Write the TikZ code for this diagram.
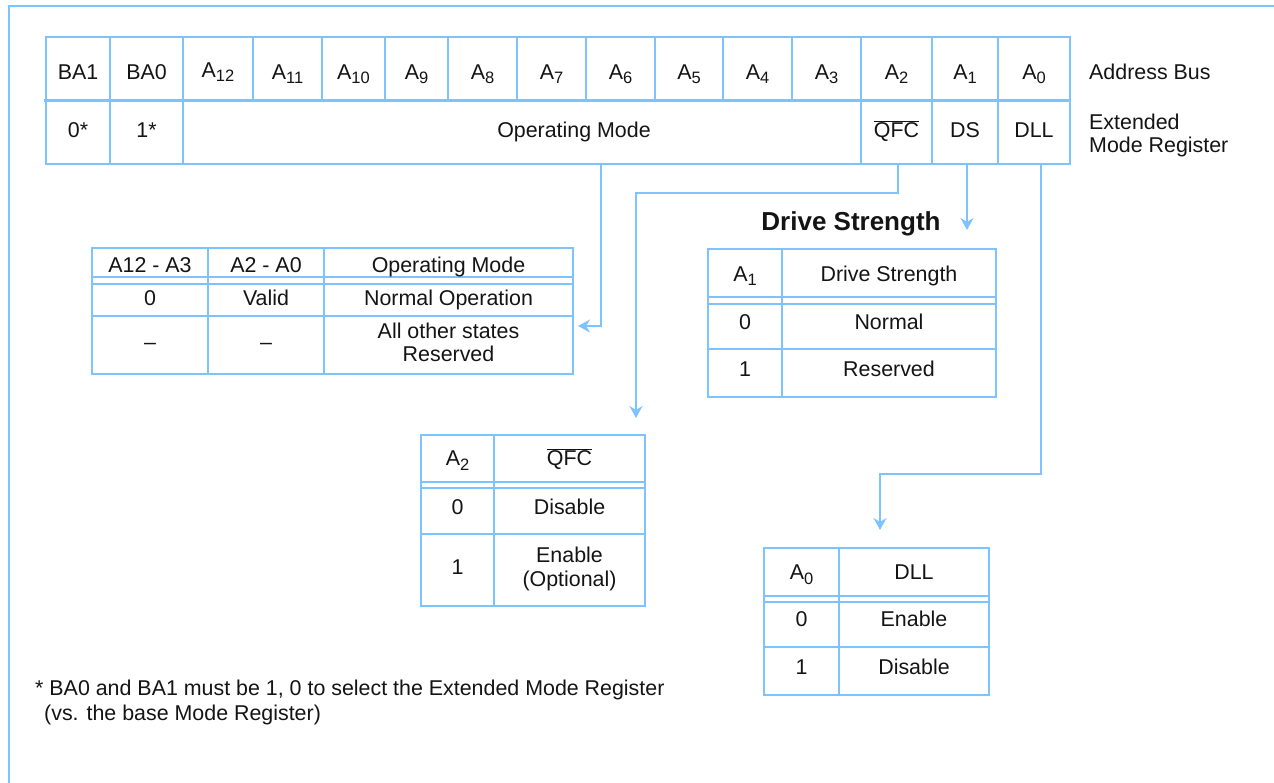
\documentclass[tikz,border=0pt]{standalone}
\usepackage{fontspec}
\setmainfont{Liberation Sans}
\usetikzlibrary{arrows.meta}
\definecolor{ln}{RGB}{125,195,255}
\definecolor{ink}{RGB}{20,20,20}
\newcommand{\Asb}[1]{A\raisebox{-4.5pt}{\fontsize{16.5}{17}\selectfont #1}}
\newcommand{\qfcbar}{$\overline{\mbox{QFC}}$}
\begin{document}
\begin{tikzpicture}[x=1pt,y=-1pt,
  grid/.style={draw=ln,line width=1.8pt},
  thin/.style={draw=ln,line width=1.4pt},
  cell/.style={font=\fontsize{21.4}{25}\selectfont, text=ink, inner sep=0pt, text height=15pt, text depth=0pt, anchor=center},
  lbl/.style={cell, anchor=west},
  ttl/.style={font=\fontsize{26}{30}\selectfont\bfseries, text=ink, inner sep=0pt, text height=19pt, text depth=0pt, anchor=center},
  conn/.style={draw=ln, line width=1.6pt, -{Stealth[length=12pt,width=13pt]}},
]
\useasboundingbox (0,0) rectangle (1274,783);
% frame
\draw[draw=ln,line width=2pt] (9,783) -- (9,6) -- (1274,6);

% ---------- register ----------
\draw[grid] (46,37) rectangle (1070,164);
\draw[draw=ln,line width=3pt] (44,101) -- (1070,101);
\foreach \x in {110,183,253,322,385,448,517,586,655,723,792,861,932,998}
  \draw[thin] (\x,37) -- (\x,101);
\foreach \x in {110,183,861,932,998}
  \draw[thin] (\x,101) -- (\x,164);

\node[cell] (ba1) at (78,72) {BA1};
\node[cell] (ba0) at (146.5,72) {BA0};
\node[cell] (a12) at (218,70) {\Asb{12}};
\node[cell] (a11) at (287.5,72) {\Asb{11}};
\node[cell] (a10) at (353.5,72) {\Asb{10}};
\node[cell] (a9) at (416.5,72) {\Asb{9}};
\node[cell] (a8) at (482.5,72) {\Asb{8}};
\node[cell] (a7) at (551.5,72) {\Asb{7}};
\node[cell] (a6) at (620.5,72) {\Asb{6}};
\node[cell] (a5) at (689,72) {\Asb{5}};
\node[cell] (a4) at (757.5,72) {\Asb{4}};
\node[cell] (a3) at (826.5,72) {\Asb{3}};
\node[cell] (a2) at (896.5,72) {\Asb{2}};
\node[cell] (a1) at (965,72) {\Asb{1}};
\node[cell] (a0) at (1034,72) {\Asb{0}};

\node[cell] (v1) at (78,130) {0*};
\node[cell] (v0) at (146.5,130) {1*};
\node[cell] (om) at (574,130) {Operating Mode};
\node[cell] (qfc) at (896.5,130) {\qfcbar};
\node[cell] (ds) at (965,130) {DS};
\node[cell] (dll) at (1034,130) {DLL};

\node[lbl] (addr) at (1089,72) {Address Bus};
\node[lbl] (ext1) at (1089,122) {Extended};
\node[lbl] (ext2) at (1089,145) {Mode Register};

% connector anchors on register
\coordinate (omsrc) at (601,164);
\coordinate (qfcsrc) at (898,164);
\coordinate (dssrc) at (967,164);
\coordinate (dllsrc) at (1041,164);

% ---------- operating mode table ----------
\draw[grid] (92,248) rectangle (573,374);
\draw[thin] (92,277) -- (573,277);
\draw[thin] (92,284) -- (573,284);
\draw[thin] (92,316) -- (573,316);
\draw[thin] (208,248) -- (208,374);
\draw[thin] (324,248) -- (324,374);
\node[cell] (oh1) at (150,265) {A12 - A3};
\node[cell] (oh2) at (266,265) {A2 - A0};
\node[cell] (oh3) at (448.5,265) {Operating Mode};
\node[cell] (or1) at (150,298) {0};
\node[cell] (or2) at (266,298) {Valid};
\node[cell] (or3) at (448.5,298) {Normal Operation};
\node[cell] (os1) at (150,342) {\textendash};
\node[cell] (os2) at (266,342) {\textendash};
\node[cell] (os3a) at (448.5,331) {All other states};
\node[cell] (os3b) at (448.5,354) {Reserved};
\coordinate (omtgt) at (578,326);

% ---------- drive strength table ----------
\node[ttl] (dstitle) at (851,221) {Drive Strength};
\draw[grid] (708,249) rectangle (996,397);
\draw[thin] (708,297) -- (996,297);
\draw[thin] (708,304) -- (996,304);
\draw[thin] (708,349) -- (996,349);
\draw[thin] (782,249) -- (782,397);
\node[cell] (dh1) at (745,274) {\Asb{1}};
\node[cell] (dh2) at (889,274) {Drive Strength};
\node[cell] (dr1) at (745,322) {0};
\node[cell] (dr2) at (889,322) {Normal};
\node[cell] (ds1) at (745,369) {1};
\node[cell] (ds2) at (889,369) {Reserved};
\coordinate (dstgt) at (967,230);

% ---------- QFC table ----------
\draw[grid] (421,435) rectangle (645,606);
\draw[thin] (421,482) -- (645,482);
\draw[thin] (421,488) -- (645,488);
\draw[thin] (421,534) -- (645,534);
\draw[thin] (494,435) -- (494,606);
\node[cell] (qh1) at (457.5,458) {\Asb{2}};
\node[cell] (qh2) at (569.5,458) {\qfcbar};
\node[cell] (qr1) at (457.5,507) {0};
\node[cell] (qr2) at (569.5,507) {Disable};
\node[cell] (qs1) at (457.5,567) {1};
\node[cell] (qs2a) at (569.5,555) {Enable};
\node[cell] (qs2b) at (569.5,579) {(Optional)};
\coordinate (qfctgt) at (636,418);

% ---------- DLL table ----------
\draw[grid] (764,548) rectangle (989,695);
\draw[thin] (764,596) -- (989,596);
\draw[thin] (764,602) -- (989,602);
\draw[thin] (764,647) -- (989,647);
\draw[thin] (839,548) -- (839,695);
\node[cell] (lh1) at (801.5,572) {\Asb{0}};
\node[cell] (lh2) at (914,572) {DLL};
\node[cell] (lr1) at (801.5,619) {0};
\node[cell] (lr2) at (914,619) {Enable};
\node[cell] (ls1) at (801.5,667) {1};
\node[cell] (ls2) at (914,667) {Disable};
\coordinate (dlltgt) at (880,530);

% ---------- connectors ----------
\draw[conn] (omsrc) -- (omsrc |- omtgt) -- (omtgt);
\draw[conn] (qfcsrc) -- ++(0,29) -| (qfctgt);
\draw[conn] (dssrc) -- (dstgt);
\draw[conn] (dllsrc) -- ++(0,310) -| (dlltgt);

% ---------- footnote ----------
\node[lbl] (fn1) at (35,688) {* BA0 and BA1 must be 1, 0 to select the Extended Mode Register};
\node[lbl] (fn2) at (44,713) {(vs. the base Mode Register)};
\end{tikzpicture}
\end{document}
